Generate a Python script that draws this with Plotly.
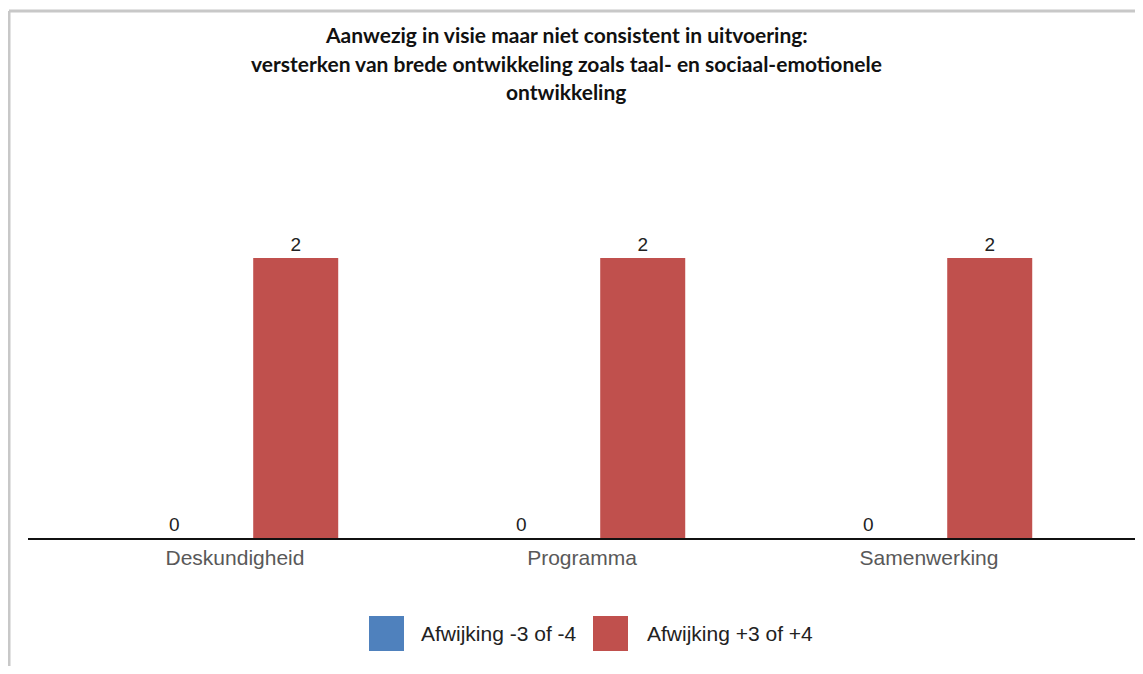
import plotly.graph_objects as go

categories = ["Deskundigheid", "Programma", "Samenwerking"]
series_names = ["Afwijking -3 of -4", "Afwijking +3 of +4"]
values_neg = [0, 0, 0]
values_pos = [2, 2, 2]
series_colors = ["#4F81BD", "#C0504D"]
title_lines = [
    "Aanwezig in visie maar niet consistent in uitvoering:",
    "versterken van brede ontwikkeling zoals taal- en sociaal-emotionele",
    "ontwikkeling",
]

OFF = 8  # page body margin
W, H = 1143 - OFF, 674 - 2 * OFF
# plot area in reference page pixels
X0, X1, Y0, Y1 = 28, 1138, 118, 538
ML, MR, MT = X0 - OFF, W - (X1 - OFF), Y0 - OFF
MB = H - (Y1 - OFF)
PW, PH = X1 - X0, Y1 - Y0


def px(x):
    return (x - X0) / PW


def py(y):
    return (Y1 - y) / PH


FONT = "Liberation Sans, Arial, sans-serif"

fig = go.Figure()
for name, vals, col in zip(series_names, [values_neg, values_pos], series_colors):
    fig.add_trace(go.Bar(
        x=categories, y=vals, name=name, marker_color=col,
        marker_line_width=0,
        text=[str(v) for v in vals], textposition="outside",
        textfont=dict(family=FONT, size=19, color="#222222"),
        cliponaxis=False, showlegend=False,
    ))

shapes = [
    dict(type="line", xref="paper", yref="paper", x0=px(OFF + 1), x1=px(1143 + 10), y0=py(11), y1=py(11),
         line=dict(color="#c8c8c8", width=3)),
    dict(type="line", xref="paper", yref="paper", x0=px(OFF + 1), x1=px(OFF + 1), y0=py(11), y1=py(700),
         line=dict(color="#c8c8c8", width=3)),
]
annotations = []
for line, yy in zip(title_lines, [34, 63, 91]):
    annotations.append(dict(
        text="<b>" + line + "</b>", xref="paper", yref="paper", x=px(566), y=py(yy),
        xanchor="center", yanchor="middle", showarrow=False,
        font=dict(family="Lato, Open Sans, sans-serif", size=21, color="#111111"),
    ))
legend_pos = [(369, 419), (593, 645)]
for (sx, tx), name, col in zip(legend_pos, series_names, series_colors):
    shapes.append(dict(type="rect", xref="paper", yref="paper",
                       x0=px(sx), x1=px(sx + 35), y0=py(616), y1=py(651),
                       fillcolor=col, line=dict(width=0)))
    annotations.append(dict(
        text=name, xref="paper", yref="paper", x=px(tx), y=py(633.5),
        xanchor="left", yanchor="middle", showarrow=False,
        font=dict(family=FONT, size=21, color="#222222"),
    ))

fig.update_layout(
    width=W, height=H,
    margin=dict(l=ML, r=MR, t=MT, b=MB, autoexpand=False, pad=0),
    paper_bgcolor="white", plot_bgcolor="white",
    barmode="group", bargap=0.3, bargroupgap=0.3,
    shapes=shapes, annotations=annotations,
    showlegend=False,
    xaxis=dict(range=[-0.5965, 2.6023], showline=True, linecolor="#111111", linewidth=2,
               ticks="", showgrid=False, zeroline=False,
               tickfont=dict(family=FONT, size=21, color="#595959"), fixedrange=True),
    yaxis=dict(range=[0, 3], visible=False, showgrid=False, zeroline=False, fixedrange=True),
)

fig.write_html("out.html")
